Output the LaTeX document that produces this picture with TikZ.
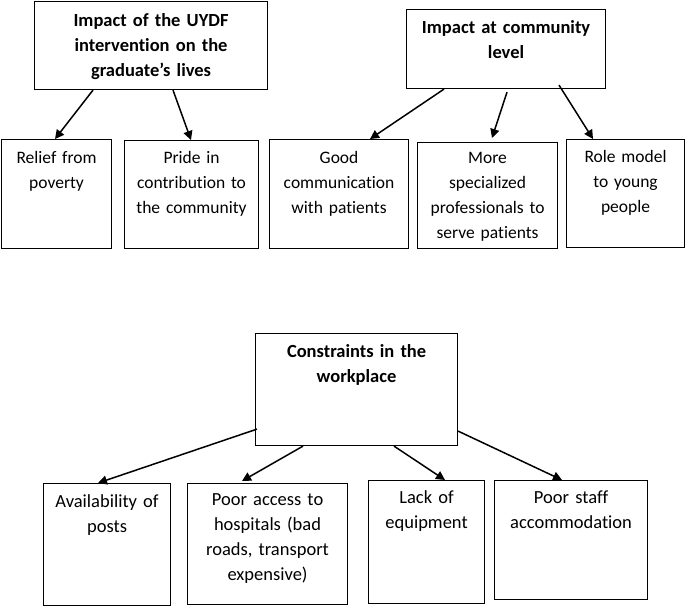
\documentclass[tikz,border=0pt]{standalone}
\usepackage{fontspec}
\setmainfont{Carlito}[Ligatures={NoCommon}]
\usepackage{tikz}
\usetikzlibrary{arrows.meta}

\begin{document}
\begin{tikzpicture}[x=1pt, y=-1pt,
  cell/.style={draw=black, line width=1.1pt, anchor=north west, align=center,
    inner sep=0pt, font=\fontsize{17.5}{25}\selectfont},
  head/.style={cell, font=\bfseries\fontsize{18.5}{25}\selectfont},
  low/.style={cell, font=\fontsize{18.5}{25}\selectfont},
  link/.style={line width=1.5pt, -{Triangle[length=9pt,width=9pt]}}]
\useasboundingbox (0,0) rectangle (685,606);
% Impact on the graduates
\node[head, text width=233pt, text height=25pt, text depth=63pt] (uydf) at (34,1) {Impact of the UYDF\\intervention on the\\graduate’s lives};
\node[cell, text width=110pt, text height=24pt, text depth=85pt] (relief) at (1,139) {Relief from\\poverty};
\node[cell, text width=134pt, text height=23pt, text depth=85pt] (pride) at (124,140) {Pride in\\contribution to\\the community};
\draw[link] ([xshift=59pt]uydf.south west) -- ([xshift=54pt]relief.north west);
\draw[link] ([xshift=139pt]uydf.south west) -- ([xshift=67pt]pride.north west);
% Impact at community level
\node[head, text width=199pt, text height=24pt, text depth=55pt] (community) at (406,9) {Impact at community\\level};
\node[cell, text width=139pt, text height=24pt, text depth=85pt] (goodcomm) at (269,139) {Good\\communication\\with patients};
\node[cell, text width=140pt, text height=21pt, text depth=85pt] (specialists) at (417,142) {More\\specialized\\professionals to\\serve patients};
\node[cell, text width=118pt, text height=23pt, text depth=85pt] (rolemodel) at (566,139) {Role model\\to young\\people};
\draw[link] ([xshift=38pt]community.south west) -- ([xshift=101pt]goodcomm.north west);
\draw[link] ([xshift=101pt,yshift=-3pt]community.south west) -- ([xshift=75pt,yshift=4pt]specialists.north west);
\draw[link] ([xshift=153pt,yshift=4pt]community.south west) -- ([xshift=27pt]rolemodel.north west);
% Constraints in the workplace
\node[head, text width=202pt, text height=24pt, text depth=88pt] (constraints) at (255,333) {Constraints in the\\workplace};
\node[low, text width=127pt, text height=24pt, text depth=98pt] (posts) at (43,483) {Availability of\\posts};
\node[low, text width=160pt, text height=22pt, text depth=99pt] (access) at (187,483) {Poor access to\\hospitals (bad\\roads, transport\\expensive)};
\node[low, text width=116pt, text height=23pt, text depth=100pt] (equipment) at (368,480) {Lack of\\equipment};
\node[low, text width=153pt, text height=23pt, text depth=96pt] (housing) at (494,480) {Poor staff\\accommodation};
\draw[link] ([xshift=2pt,yshift=17pt]constraints.south west) -- ([xshift=55pt]posts.north west);
\draw[link] ([xshift=48pt]constraints.south west) -- ([xshift=55pt,yshift=2pt]access.north west);
\draw[link] ([xshift=139pt]constraints.south west) -- ([xshift=77pt]equipment.north west);
\draw[link] ([yshift=15pt]constraints.south east) -- ([xshift=68pt]housing.north west);
\end{tikzpicture}
\end{document}
